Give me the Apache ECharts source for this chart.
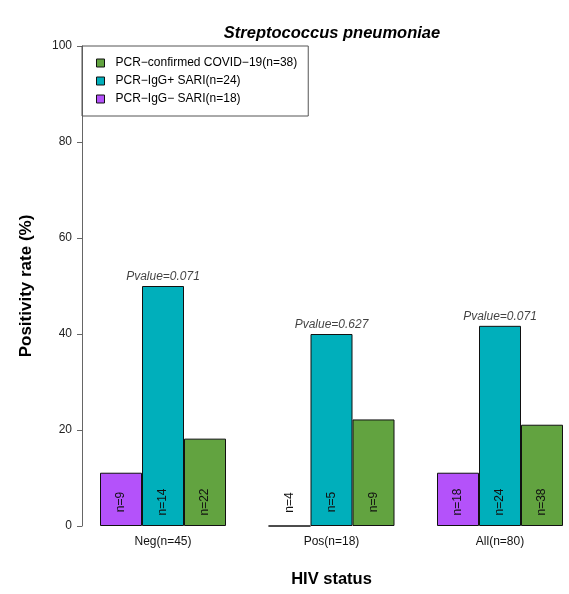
<!DOCTYPE html>
<html>
<head>
<meta charset="utf-8">
<script src="https://cdn.jsdelivr.net/npm/echarts@6/dist/echarts.min.js"></script>
<style>html,body{margin:0;padding:0;background:#fff}#c{width:569px;height:594px}</style>
</head>
<body>
<div id="c"></div>
<script>
const categories = ['Neg(n=45)', 'Pos(n=18)', 'All(n=80)'];
const seriesNames = ['PCR\u2212IgG\u2212 SARI(n=18)', 'PCR\u2212IgG+ SARI(n=24)', 'PCR\u2212confirmed COVID\u221219(n=38)'];
const igNegValues = [11.1, 0, 11.1];
const igPosValues = [50.0, 40.0, 41.7];
const covidValues = [18.2, 22.2, 21.1];
const igNegN = ['n=9', 'n=4', 'n=18'];
const igPosN = ['n=14', 'n=5', 'n=24'];
const covidN = ['n=22', 'n=9', 'n=38'];
const pvalues = ['Pvalue=0.071', 'Pvalue=0.627', 'Pvalue=0.071'];
const yTicks = [0, 20, 40, 60, 80, 100];
const colors = ['#B452FA', '#00AFBB', '#62A340'];

const FONT = '"Liberation Sans", Arial, Helvetica, sans-serif';
const chart = echarts.init(document.getElementById('c'), null, {renderer: 'canvas'});

function nLabel(arr) {
  return {
    show: true,
    position: 'insideBottom',
    distance: 24,
    rotate: 90,
    align: 'center',
    verticalAlign: 'middle',
    fontSize: 12,
    fontFamily: FONT,
    color: '#111',
    formatter: p => arr[p.dataIndex]
  };
}
function barSeries(name, data, color, labels) {
  return {
    name: name,
    type: 'bar',
    data: data,
    barWidth: 42,
    barGap: '0%',
    clip: false,
    itemStyle: {color: color, borderColor: '#111', borderWidth: 1},
    label: nLabel(labels),
    emphasis: {disabled: true},
    animation: false
  };
}

chart.setOption({
  animation: false,
  title: {
    text: 'Streptococcus pneumoniae',
    left: 332,
    top: 25,
    textAlign: 'center',
    padding: 0,
    textStyle: {fontSize: 16.5, fontWeight: 'bold', fontStyle: 'italic', fontFamily: FONT, color: '#000'}
  },
  legend: {
    orient: 'vertical',
    left: 82,
    top: 46,
    padding: [11, 11, 11, 14],
    itemWidth: 8,
    itemHeight: 8,
    itemGap: 6,
    icon: 'rect',
    borderColor: '#555',
    borderWidth: 1,
    data: [seriesNames[2], seriesNames[1], seriesNames[0]],
    itemStyle: {borderColor: '#111', borderWidth: 1},
    textStyle: {fontSize: 12, fontFamily: FONT, color: '#000', padding: [0, 0, 0, 6]}
  },
  grid: {left: 163, top: 46, bottom: 68, right: 69, containLabel: false},
  xAxis: {
    type: 'category',
    data: categories,
    boundaryGap: false,
    axisLine: {show: false},
    axisTick: {show: false},
    axisLabel: {fontSize: 12, fontFamily: FONT, color: '#111', margin: 10},
    name: 'HIV status',
    nameLocation: 'middle',
    nameGap: 45,
    nameTextStyle: {fontSize: 16.5, fontWeight: 'bold', fontFamily: FONT, color: '#000'}
  },
  yAxis: {
    type: 'value',
    min: 0,
    max: 100,
    interval: 20,
    offset: 81,
    axisLine: {show: true, lineStyle: {color: '#666', width: 1}},
    axisTick: {show: true, length: 5, lineStyle: {color: '#666'}},
    splitLine: {show: false},
    axisLabel: {fontSize: 12, fontFamily: FONT, color: '#222', margin: 10,
      formatter: v => yTicks.includes(v) ? String(v) : ''},
    name: 'Positivity rate (%)',
    nameLocation: 'middle',
    nameRotate: 90,
    nameGap: 47,
    nameTextStyle: {fontSize: 17, fontWeight: 'bold', fontFamily: FONT, color: '#000'}
  },
  series: [
    barSeries(seriesNames[0], igNegValues, colors[0], igNegN),
    barSeries(seriesNames[1], igPosValues, colors[1], igPosN),
    barSeries(seriesNames[2], covidValues, colors[2], covidN),
    {
      name: 'pvalue',
      type: 'scatter',
      data: igPosValues,
      symbolSize: 0,
      silent: true,
      clip: false,
      label: {
        show: true,
        position: 'top',
        distance: 3,
        fontSize: 12,
        fontStyle: 'italic',
        fontFamily: FONT,
        color: '#111',
        formatter: p => pvalues[p.dataIndex]
      },
      animation: false
    }
  ]
});
</script>
</body>
</html>
